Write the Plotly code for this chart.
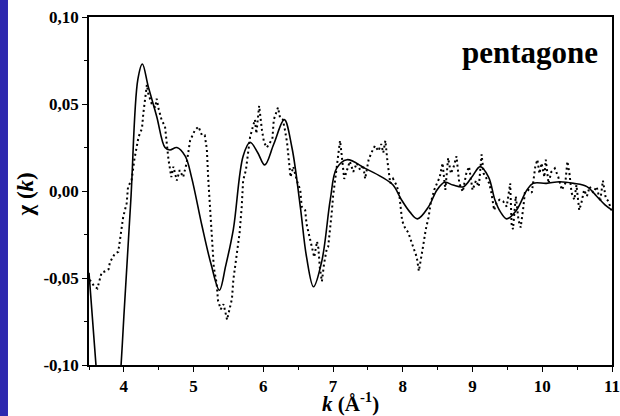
import plotly.graph_objects as go

# Fit (solid line)
k_fit = [3.5, 3.6, 3.7, 3.78, 3.87, 3.96, 4.0, 4.1, 4.2, 4.265, 4.35, 4.47, 4.59, 4.66, 4.76,
         4.88, 4.97, 5.12, 5.25, 5.37, 5.46, 5.57, 5.71, 5.81, 5.92, 6.02, 6.15, 6.30, 6.41,
         6.53, 6.62, 6.72, 6.84, 6.96, 7.05, 7.2, 7.46, 7.70, 7.86, 7.98, 8.1, 8.21, 8.37,
         8.49, 8.6, 8.72, 8.87, 8.99, 9.11, 9.23, 9.32, 9.40, 9.49, 9.63, 9.78, 9.87, 10.06,
         10.25, 10.45, 10.64, 10.78, 10.9, 11.0]
chi_fit = [-0.047, -0.10, -0.15, -0.17, -0.15, -0.10, -0.072, -0.005, 0.064, 0.073, 0.060,
           0.043, 0.025, 0.0236, 0.025, 0.020, 0.008, -0.020, -0.042, -0.057, -0.043, -0.022,
           0.020, 0.028, 0.022, 0.015, 0.027, 0.041, 0.025, -0.009, -0.038, -0.055, -0.040,
           -0.005, 0.013, 0.018, 0.013, 0.008, 0.0034, -0.005, -0.012, -0.016, -0.009, 0.0006,
           0.005, 0.0034, 0.0025, 0.008, 0.014, 0.008, -0.005, -0.012, -0.016, -0.011, 0.0006,
           0.0044, 0.0044, 0.0053, 0.0044, 0.0025, -0.003, -0.008, -0.011]

# Experiment (dotted line)
k_exp = [3.51, 3.58, 3.62, 3.68, 3.74, 3.78, 3.80, 3.87, 3.92, 3.96, 3.99, 4.04, 4.06, 4.11,
         4.15, 4.21, 4.26, 4.28, 4.30, 4.33, 4.35, 4.40, 4.45, 4.47, 4.50, 4.54, 4.59, 4.64,
         4.68, 4.71, 4.76, 4.80, 4.85, 4.90, 4.95, 5.02, 5.07, 5.12, 5.16, 5.19, 5.21, 5.24,
         5.26, 5.29, 5.33, 5.35, 5.39, 5.43, 5.48, 5.51, 5.55, 5.57, 5.62, 5.66, 5.69, 5.71,
         5.75, 5.78, 5.81, 5.85, 5.88, 5.90, 5.93, 5.94, 5.98, 6.01, 6.05, 6.10, 6.13, 6.15,
         6.18, 6.21, 6.24, 6.28, 6.31, 6.34, 6.37, 6.39, 6.43, 6.48, 6.53, 6.55, 6.60, 6.62,
         6.66, 6.69, 6.73, 6.77, 6.79, 6.81, 6.84, 6.87, 6.91, 6.93, 6.96, 6.98, 7.00, 7.03,
         7.05, 7.09, 7.10, 7.12, 7.16, 7.20, 7.24, 7.29, 7.34, 7.39, 7.43, 7.46, 7.51, 7.55,
         7.60, 7.65, 7.69, 7.72, 7.75, 7.78, 7.82, 7.86, 7.91, 7.95, 7.97, 7.99, 8.03, 8.08,
         8.13, 8.17, 8.20, 8.23, 8.26, 8.29, 8.33, 8.37, 8.40, 8.45, 8.49, 8.53, 8.57, 8.61,
         8.65, 8.69, 8.73, 8.77, 8.81, 8.86, 8.91, 8.95, 9.00, 9.05, 9.09, 9.13, 9.16, 9.20,
         9.24, 9.27, 9.31, 9.35, 9.39, 9.44, 9.49, 9.54, 9.56, 9.58, 9.62, 9.66, 9.69, 9.73,
         9.75, 9.80, 9.85, 9.90, 9.93, 9.96, 9.99, 10.03, 10.05, 10.09, 10.13, 10.18, 10.23,
         10.28, 10.33, 10.36, 10.39, 10.42, 10.46, 10.49, 10.53, 10.56, 10.60, 10.64, 10.68,
         10.73, 10.78, 10.83, 10.87, 10.91, 10.95, 10.99]
chi_exp = [-0.051, -0.055, -0.056, -0.047, -0.046, -0.045, -0.041, -0.036, -0.035, -0.024,
           -0.015, -0.007, 0.0025, 0.006, 0.018, 0.031, 0.036, 0.045, 0.052, 0.061, 0.056,
           0.050, 0.048, 0.053, 0.047, 0.041, 0.037, 0.018, 0.008, 0.014, 0.006, 0.012, 0.008,
           0.016, 0.029, 0.035, 0.037, 0.032, 0.032, 0.024, 0.007, -0.010, -0.025, -0.044,
           -0.053, -0.063, -0.068, -0.065, -0.074, -0.068, -0.062, -0.051, -0.036, -0.024,
           -0.009, 0.006, 0.012, 0.022, 0.031, 0.037, 0.041, 0.033, 0.044, 0.049, 0.035, 0.028,
           0.025, 0.028, 0.030, 0.041, 0.045, 0.048, 0.042, 0.041, 0.035, 0.028, 0.016, 0.008,
           0.014, 0.006, 0.0006, -0.009, -0.011, -0.019, -0.026, -0.032, -0.038, -0.029,
           -0.033, -0.044, -0.052, -0.042, -0.033, -0.032, -0.022, -0.013, -0.003, 0.007,
           0.014, 0.024, 0.029, 0.022, 0.007, 0.012, 0.017, 0.011, 0.016, 0.012, 0.015, 0.007,
           0.018, 0.022, 0.026, 0.023, 0.027, 0.022, 0.029, 0.017, 0.0044, 0.007, 0.0034,
           -0.002, -0.012, -0.017, -0.021, -0.024, -0.030, -0.034, -0.038, -0.046, -0.040,
           -0.032, -0.022, -0.015, -0.007, 0.0006, 0.0044, 0.008, 0.016, 0.0006, 0.019, 0.010,
           0.014, 0.020, 0.0044, -0.0004, 0.010, 0.014, 0.0006, 0.006, 0.0025, 0.021, 0.010,
           0.007, 0.0044, -0.001, -0.011, -0.006, -0.005, -0.006, -0.009, 0.0044, -0.019,
           -0.022, -0.003, -0.017, -0.021, -0.009, -0.001, 0.0006, -0.001, 0.014, 0.018, 0.010,
           0.016, 0.008, 0.018, 0.0044, 0.011, 0.013, 0.008, 0.0006, 0.0044, 0.017, 0.010,
           -0.001, -0.005, 0.0034, -0.011, -0.007, 0.0006, -0.003, 0.0025, -0.001, 0.0025,
           -0.006, 0.006, -0.004, -0.006, -0.011]

x_tickvals = [4, 5, 6, 7, 8, 9, 10, 11]
x_ticktext = ["4", "5", "6", "7", "8", "9", "10", "11"]
y_tickvals = [-0.10, -0.05, 0.0, 0.05, 0.10]
y_ticktext = ["-0,10", "-0,05", "0,00", "0,05", "0,10"]

SERIF = "Times New Roman, Liberation Serif, DejaVu Serif, serif"

fig = go.Figure()
fig.add_trace(go.Scatter(x=k_exp, y=chi_exp, mode="lines",
                         line=dict(color="black", width=2, dash="2px,3px"),
                         showlegend=False, hoverinfo="skip"))
fig.add_trace(go.Scatter(x=k_fit, y=chi_fit, mode="lines",
                         line=dict(color="black", width=1.6, shape="spline", smoothing=1.0),
                         showlegend=False, hoverinfo="skip"))

axis_common = dict(showline=True, linecolor="black", linewidth=1.5, mirror=True,
                   ticks="outside", ticklen=5, tickwidth=1.3, tickcolor="black",
                   showgrid=False, zeroline=False, automargin=False,
                   ticklabeloverflow="allow",
                   tickfont=dict(family=SERIF, size=17, color="black", weight="bold"))

fig.update_xaxes(range=[3.5, 11], tickvals=x_tickvals, ticktext=x_ticktext,
                 minor=dict(ticks="outside", ticklen=3, tickwidth=1.2, tickcolor="black",
                            dtick=0.5, tick0=3.5),
                 **axis_common)
fig.update_yaxes(range=[-0.10, 0.10], tickvals=y_tickvals, ticktext=y_ticktext,
                 minor=dict(ticks="outside", ticklen=3, tickwidth=1.2, tickcolor="black",
                            dtick=0.025, tick0=-0.1),
                 **axis_common)

fig.update_layout(
    width=620, height=416,
    margin=dict(l=89, r=8, t=17, b=51, autoexpand=False),
    paper_bgcolor="white", plot_bgcolor="white",
    shapes=[dict(type="rect", xref="paper", yref="paper",
                 x0=-0.175, x1=-0.1549, y0=-0.16, y1=1.06,
                 fillcolor="rgb(45,40,175)", line=dict(width=0), layer="below")],
    annotations=[
        dict(text="<b>pentagone</b>", xref="paper", yref="paper", x=0.977, y=0.899,
             xanchor="right", yanchor="middle", showarrow=False,
             font=dict(family=SERIF, size=31, color="black")),
        dict(text="<b>χ (<i>k</i>)</b>", xref="paper", yref="paper", x=-0.1224, y=0.49,
             xanchor="center", yanchor="middle", textangle=-90, showarrow=False,
             font=dict(family=SERIF, size=23, color="black")),
        dict(text="<b><i>k</i> (Å<sup>-1</sup>)</b>", xref="paper", yref="paper", x=0.5, y=-0.107,
             xanchor="center", yanchor="middle", showarrow=False,
             font=dict(family=SERIF, size=21, color="black")),
    ],
)

fig.write_html("out.html", config={"displayModeBar": False},
               post_script="document.body.style.margin='0';document.body.style.padding='0';"
                           "document.body.style.overflow='hidden';")
